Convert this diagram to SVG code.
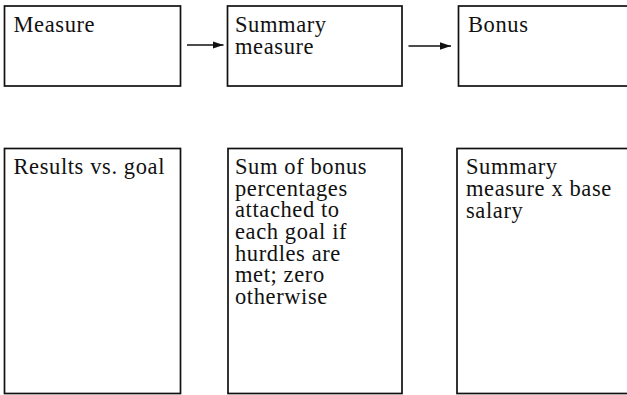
<svg xmlns="http://www.w3.org/2000/svg" width="627" height="395" viewBox="0 0 627 395">
  <style>
    .box { fill: #ffffff; stroke: #111111; stroke-width: 1.7; }
    .lbl { font-family: "Liberation Serif", "Times New Roman", serif; font-size: 22.5px; letter-spacing: 0.6px; fill: #111111; }
    .conn { stroke: #111111; stroke-width: 1.4; fill: none; }
  </style>
  <defs>
    <marker id="head" markerUnits="userSpaceOnUse" markerWidth="12" markerHeight="9" refX="11" refY="4.5" orient="auto">
      <path d="M0,0.8 L11,4.5 L0,8.2 Z" fill="#111111"/>
    </marker>
  </defs>
  <rect width="627" height="395" fill="#ffffff"/>

  <!-- top row: process steps -->
  <g id="measure">
    <rect class="box" x="4.5" y="6" width="176" height="80"/>
    <text class="lbl" x="13.5" y="32">Measure</text>
  </g>
  <g id="summary-measure">
    <rect class="box" x="227.5" y="6" width="174.5" height="80"/>
    <text class="lbl" x="235" y="32">Summary</text>
    <text class="lbl" x="235" y="54">measure</text>
  </g>
  <g id="bonus">
    <rect class="box" x="458.5" y="6" width="185" height="80"/>
    <text class="lbl" x="468" y="32">Bonus</text>
  </g>

  <!-- bottom row: descriptions -->
  <g id="measure-desc">
    <rect class="box" x="4.5" y="148.5" width="176" height="245"/>
    <text class="lbl" x="13.5" y="174">Results vs. goal</text>
  </g>
  <g id="summary-desc">
    <rect class="box" x="228" y="148.5" width="174" height="245"/>
    <text class="lbl" x="235" y="174">Sum of bonus</text>
    <text class="lbl" x="235" y="195.7">percentages</text>
    <text class="lbl" x="235" y="217.3">attached to</text>
    <text class="lbl" x="235" y="239">each goal if</text>
    <text class="lbl" x="235" y="260.7">hurdles are</text>
    <text class="lbl" x="235" y="282.3">met; zero</text>
    <text class="lbl" x="235" y="304">otherwise</text>
  </g>
  <g id="bonus-desc">
    <rect class="box" x="457" y="148.5" width="186" height="245"/>
    <text class="lbl" x="466" y="174">Summary</text>
    <text class="lbl" x="466" y="196">measure x base</text>
    <text class="lbl" x="466" y="218">salary</text>
  </g>

  <!-- connectors -->
  <g id="connectors">
    <line class="conn" x1="187" y1="45" x2="223.5" y2="45" marker-end="url(#head)"/>
    <line class="conn" x1="408.5" y1="46" x2="451" y2="46" marker-end="url(#head)"/>
  </g>
</svg>
